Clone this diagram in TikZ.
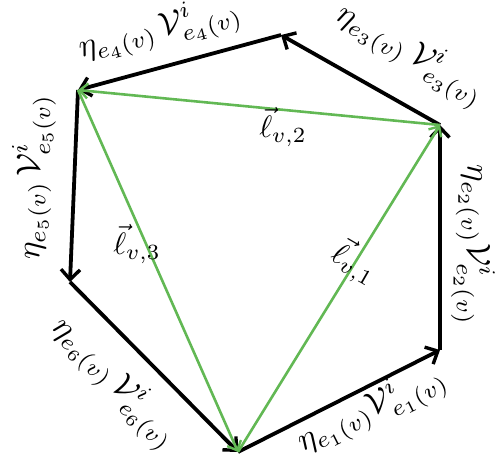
\documentclass[tikz,border=0pt]{standalone}
\usepackage{amsmath}
\usetikzlibrary{arrows.meta}
\definecolor{lgreen}{RGB}{98,184,84}
\begin{document}
\begin{tikzpicture}[x=1pt,y=-1pt,
  edge/.style={line width=3.8pt,-{Straight Barb[length=10pt,width=19pt,line width=3.4pt]}},
  gedge/.style={lgreen,line width=2.6pt,-{Straight Barb[length=8pt,width=15pt,line width=2.4pt]}},
  lab/.style={scale=3.3,inner sep=0pt},
  glab/.style={scale=3.1,inner sep=0pt}]
\useasboundingbox (0,0) rectangle (504,461);
\coordinate (A) at (238,452);
\coordinate (B) at (440,350);
\coordinate (C) at (440,125);
\coordinate (D) at (281,35);
\coordinate (E) at (78,90);
\coordinate (F) at (70,282);
\draw[edge] (A) -- (B);
\draw[edge] (B) -- (C);
\draw[edge] (C) -- (D);
\draw[edge] (D) -- (E);
\draw[edge] (E) -- (F);
\draw[edge] (F) -- (A);
\draw[gedge] (A) -- (C);
\draw[gedge] (C) -- (E);
\draw[gedge] (E) -- (A);
\node[lab,rotate=26.8] (l1) at (372,411) {$\eta_{e_1(v)}\mathcal{V}^i_{e_1(v)}$};
\node[lab,rotate=-90] (l2) at (473,245) {$\eta_{e_2(v)}\mathcal{V}^i_{e_2(v)}$};
\node[lab,rotate=-29] (l3) at (410,55) {$\eta_{e_3(v)}\,\mathcal{V}^i_{e_3(v)}$};
\node[lab,rotate=15] (l4) at (160,31) {$\eta_{e_4(v)}\,\mathcal{V}^i_{e_4(v)}$};
\node[lab,rotate=90] (l5) at (34,177) {$\eta_{e_5(v)}\,\mathcal{V}^i_{e_5(v)}$};
\node[lab,rotate=-45.3] (l6) at (114,383) {$\eta_{e_6(v)}\,\mathcal{V}^i_{e_6(v)}$};
\node[glab,rotate=-30] (g1) at (355,262) {$\vec{\ell}_{v,1}$};
\node[glab] (g2) at (283,127) {$\vec{\ell}_{v,2}$};
\node[glab] (g3) at (137,244) {$\vec{\ell}_{v,3}$};
\end{tikzpicture}
\end{document}
